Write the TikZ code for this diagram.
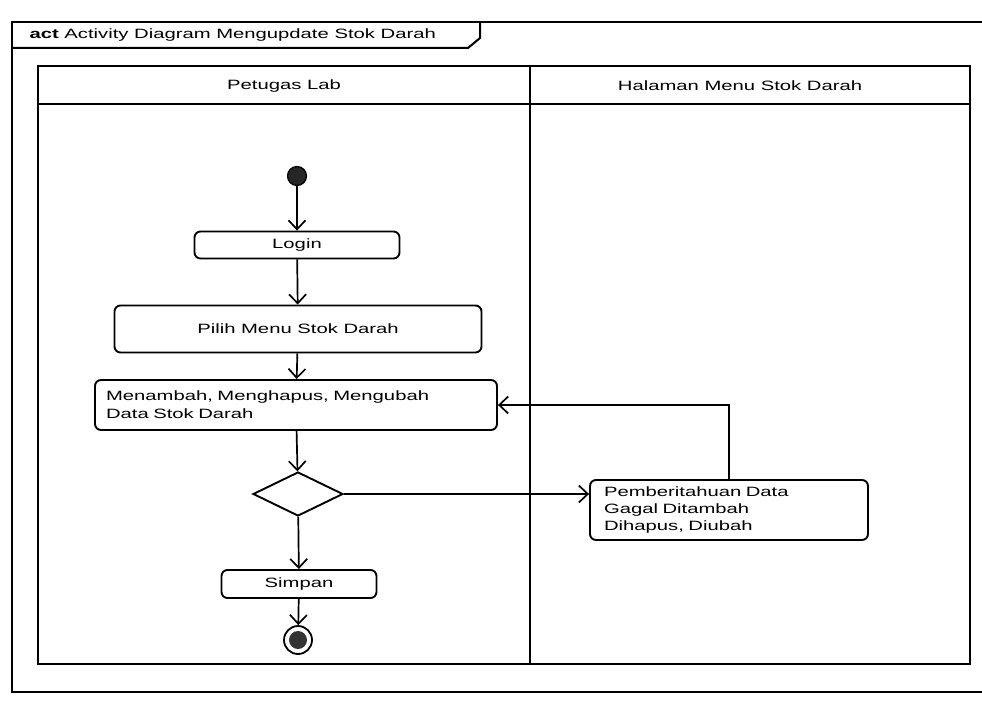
\documentclass[tikz,border=0pt]{standalone}
\usepackage{fontspec}
\setmainfont{Liberation Sans}[FakeStretch=1.5]
\usetikzlibrary{arrows.meta,shapes.geometric,positioning}
\tikzset{
	action/.style   = {draw, rounded corners = 6pt, line width = 1.9pt,
		minimum height = 27pt, inner sep = 0},
	decision/.style = {draw, diamond, aspect = 2, line width = 1.9pt,
		minimum width = 90pt, minimum height = 44pt, inner sep = 0},
	initial/.style  = {circle, draw, fill = black!85, line width = 1.2pt,
		minimum size = 19pt, inner sep = 0},
	final/.style    = {circle, draw, line width = 1.8pt, minimum size = 28pt,
		inner sep = 0, path picture = {
			\fill[black!80] (path picture bounding box.center) circle (9pt);}},
	flow/.style     = {draw, line width = 1.7pt,
		-{Straight Barb[length = 9pt, width = 17pt, line width = 1.7pt]}},
	lane/.style     = {line width = 2pt},
	txt/.style      = {font = \fontsize{13.5}{18}\selectfont},
}

\begin{document}
\begin{tikzpicture}[x = 1pt, y = -1pt, txt]
\useasboundingbox (0,0) rectangle (982,701);
% frame and title tab
\draw[lane] (990,22) -- (12,22) -- (12,692) -- (990,692);
\draw[lane] (12,48) -- (468,48) -- (480,38) -- (480,22);
\node[anchor = west] (title) at (26,35) {\textbf{act} Activity Diagram Mengupdate Stok Darah};
% swimlanes
\draw[lane] (38,66) rectangle (970,664);
\draw[lane] (38,104) -- (970,104);
\draw[lane] (530,66) -- (530,664);
\node (petugas) at (284,86) {Petugas Lab};
\node (halaman) at (740,86) {Halaman Menu Stok Darah};
% activities
\node[initial] (start) at (297,176) {};
\node[action, minimum width = 205pt] (login) at (297,245) {Login};
\node[action, minimum width = 367pt, minimum height = 47pt] (pilih) at (298,329) {Pilih Menu Stok Darah};
\node[action, minimum width = 402pt, minimum height = 50pt, inner xsep = 11pt,
	text width = 380pt, align = left] (ubah) at (296,405)
	{Menambah, Menghapus, Mengubah\\Data Stok Darah};
\node[decision] (cek) at (298,494) {};
\node[action, minimum width = 155pt, minimum height = 28pt] (simpan) at (299,584) {Simpan};
\node[final] (end) at (298,640) {};
\node[action, minimum width = 278pt, minimum height = 60pt, inner xsep = 14pt,
	text width = 250pt, align = left, font = \fontsize{13.5}{17}\selectfont] (gagal) at (729,510)
	{Pemberitahuan Data\\Gagal Ditambah\\Dihapus, Diubah};
% connectors
\draw[flow] (start) -- (login);
\draw[flow] (login) -- (pilih);
\draw[flow] (pilih) -- (ubah);
\draw[flow] (ubah) -- (cek);
\draw[flow] (cek) -- (simpan);
\draw[flow] (simpan) -- (end);
\draw[flow] (cek.east) -- (cek.east -| gagal.west);
\draw[flow] (gagal.north) |- (ubah.east);
\end{tikzpicture}
\end{document}
